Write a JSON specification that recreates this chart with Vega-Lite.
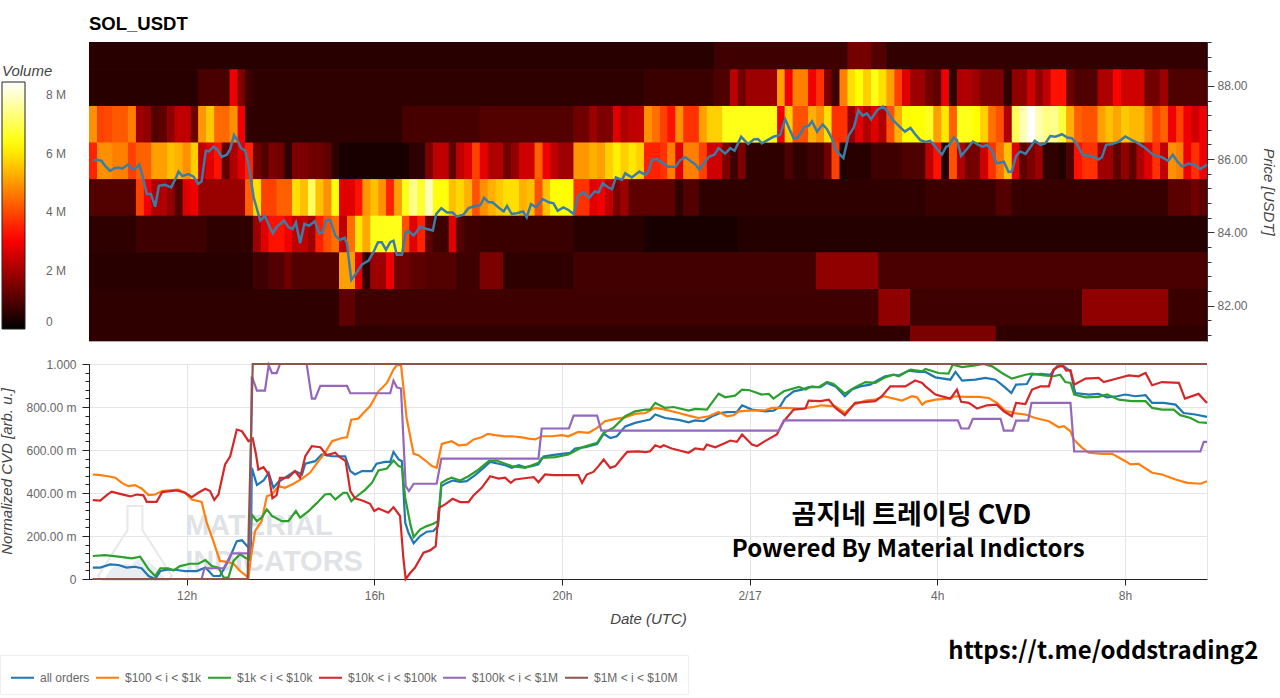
{
"$schema":"https://vega.github.io/schema/vega-lite/v6.json",
"description":"SOL_USDT order book heatmap with price, and normalized CVD by order size",
"background":"white",
"padding":{"left":-2,"top":14,"right":3,"bottom":0},
"config":{"font":"Liberation Sans"},
"spacing":15,
"datasets":{
"cells":[
{"t0":9.92,"t1":23.25,"lo":88.45,"hi":89.2,"v":0.48},{"t0":23.25,"t1":26.09,"lo":88.45,"hi":89.2,"v":0.75},{"t0":26.09,"t1":26.59,"lo":88.45,"hi":89.2,"v":1.4},{"t0":26.59,"t1":26.92,"lo":88.45,"hi":89.2,"v":1.0},{"t0":26.92,"t1":33.75,"lo":88.45,"hi":89.2,"v":0.6},
{"t0":9.92,"t1":12.25,"lo":87.45,"hi":88.45,"v":0.5},{"t0":12.25,"t1":12.92,"lo":87.45,"hi":88.45,"v":0.9},{"t0":12.92,"t1":13.09,"lo":87.45,"hi":88.45,"v":2.9},{"t0":13.09,"t1":13.25,"lo":87.45,"hi":88.45,"v":1.5},{"t0":13.25,"t1":13.42,"lo":87.45,"hi":88.45,"v":0.75},{"t0":13.42,"t1":21.75,"lo":87.45,"hi":88.45,"v":0.55},{"t0":21.75,"t1":23.25,"lo":87.45,"hi":88.45,"v":0.7},{"t0":23.25,"t1":23.59,"lo":87.45,"hi":88.45,"v":0.95},{"t0":23.59,"t1":23.75,"lo":87.45,"hi":88.45,"v":2.3},{"t0":23.75,"t1":23.92,"lo":87.45,"hi":88.45,"v":1.35},{"t0":23.92,"t1":24.59,"lo":87.45,"hi":88.45,"v":1.9},{"t0":24.59,"t1":24.75,"lo":87.45,"hi":88.45,"v":5.1},{"t0":24.75,"t1":24.92,"lo":87.45,"hi":88.45,"v":2.9},{"t0":24.92,"t1":25.25,"lo":87.45,"hi":88.45,"v":4.7},{"t0":25.25,"t1":25.42,"lo":87.45,"hi":88.45,"v":2.9},{"t0":25.42,"t1":25.59,"lo":87.45,"hi":88.45,"v":3.7},{"t0":25.59,"t1":25.75,"lo":87.45,"hi":88.45,"v":1.5},{"t0":25.75,"t1":25.92,"lo":87.45,"hi":88.45,"v":0.75},{"t0":25.92,"t1":26.09,"lo":87.45,"hi":88.45,"v":4.7},{"t0":26.09,"t1":26.25,"lo":87.45,"hi":88.45,"v":5.9},{"t0":26.25,"t1":26.42,"lo":87.45,"hi":88.45,"v":6.3},{"t0":26.42,"t1":26.59,"lo":87.45,"hi":88.45,"v":5.7},{"t0":26.59,"t1":26.75,"lo":87.45,"hi":88.45,"v":6.5},{"t0":26.75,"t1":26.92,"lo":87.45,"hi":88.45,"v":5.9},{"t0":26.92,"t1":27.09,"lo":87.45,"hi":88.45,"v":5.1},{"t0":27.09,"t1":27.25,"lo":87.45,"hi":88.45,"v":3.9},{"t0":27.25,"t1":27.42,"lo":87.45,"hi":88.45,"v":2.7},{"t0":27.42,"t1":27.75,"lo":87.45,"hi":88.45,"v":1.9},{"t0":27.75,"t1":27.92,"lo":87.45,"hi":88.45,"v":1.35},{"t0":27.92,"t1":28.09,"lo":87.45,"hi":88.45,"v":1.15},{"t0":28.09,"t1":28.25,"lo":87.45,"hi":88.45,"v":2.9},{"t0":28.25,"t1":28.42,"lo":87.45,"hi":88.45,"v":0.55},{"t0":28.42,"t1":28.75,"lo":87.45,"hi":88.45,"v":2.1},{"t0":28.75,"t1":28.92,"lo":87.45,"hi":88.45,"v":1.9},{"t0":28.92,"t1":29.42,"lo":87.45,"hi":88.45,"v":1.5},{"t0":29.42,"t1":29.59,"lo":87.45,"hi":88.45,"v":0.55},{"t0":29.59,"t1":29.92,"lo":87.45,"hi":88.45,"v":1.75},{"t0":29.92,"t1":30.09,"lo":87.45,"hi":88.45,"v":2.5},{"t0":30.09,"t1":30.25,"lo":87.45,"hi":88.45,"v":1.75},{"t0":30.25,"t1":30.42,"lo":87.45,"hi":88.45,"v":2.3},{"t0":30.42,"t1":30.75,"lo":87.45,"hi":88.45,"v":3.3},{"t0":30.75,"t1":30.92,"lo":87.45,"hi":88.45,"v":1.35},{"t0":30.92,"t1":31.42,"lo":87.45,"hi":88.45,"v":0.95},{"t0":31.42,"t1":31.75,"lo":87.45,"hi":88.45,"v":2.1},{"t0":31.75,"t1":31.92,"lo":87.45,"hi":88.45,"v":3.1},{"t0":31.92,"t1":32.42,"lo":87.45,"hi":88.45,"v":2.5},{"t0":32.42,"t1":32.75,"lo":87.45,"hi":88.45,"v":1.35},{"t0":32.75,"t1":32.92,"lo":87.45,"hi":88.45,"v":1.9},{"t0":32.92,"t1":33.75,"lo":87.45,"hi":88.45,"v":0.95},
{"t0":9.92,"t1":10.09,"lo":86.45,"hi":87.45,"v":4.9},{"t0":10.09,"t1":10.25,"lo":86.45,"hi":87.45,"v":3.9},{"t0":10.25,"t1":10.42,"lo":86.45,"hi":87.45,"v":4.0},{"t0":10.42,"t1":10.75,"lo":86.45,"hi":87.45,"v":4.2},{"t0":10.75,"t1":10.92,"lo":86.45,"hi":87.45,"v":4.7},{"t0":10.92,"t1":11.09,"lo":86.45,"hi":87.45,"v":1.9},{"t0":11.09,"t1":11.25,"lo":86.45,"hi":87.45,"v":1.75},{"t0":11.25,"t1":11.42,"lo":86.45,"hi":87.45,"v":1.0},{"t0":11.42,"t1":11.59,"lo":86.45,"hi":87.45,"v":1.15},{"t0":11.59,"t1":11.75,"lo":86.45,"hi":87.45,"v":1.75},{"t0":11.75,"t1":12.09,"lo":86.45,"hi":87.45,"v":2.3},{"t0":12.09,"t1":12.25,"lo":86.45,"hi":87.45,"v":1.3},{"t0":12.25,"t1":12.42,"lo":86.45,"hi":87.45,"v":5.0},{"t0":12.42,"t1":12.59,"lo":86.45,"hi":87.45,"v":5.6},{"t0":12.59,"t1":12.92,"lo":86.45,"hi":87.45,"v":4.4},{"t0":12.92,"t1":13.09,"lo":86.45,"hi":87.45,"v":4.9},{"t0":13.09,"t1":13.25,"lo":86.45,"hi":87.45,"v":2.9},{"t0":13.25,"t1":16.59,"lo":86.45,"hi":87.45,"v":0.55},{"t0":16.59,"t1":18.25,"lo":86.45,"hi":87.45,"v":0.85},{"t0":18.25,"t1":20.25,"lo":86.45,"hi":87.45,"v":1.0},{"t0":20.25,"t1":20.59,"lo":86.45,"hi":87.45,"v":1.35},{"t0":20.59,"t1":20.75,"lo":86.45,"hi":87.45,"v":1.9},{"t0":20.75,"t1":21.09,"lo":86.45,"hi":87.45,"v":1.5},{"t0":21.09,"t1":21.25,"lo":86.45,"hi":87.45,"v":2.7},{"t0":21.25,"t1":21.42,"lo":86.45,"hi":87.45,"v":2.1},{"t0":21.42,"t1":21.75,"lo":86.45,"hi":87.45,"v":2.3},{"t0":21.75,"t1":21.92,"lo":86.45,"hi":87.45,"v":4.9},{"t0":21.92,"t1":22.09,"lo":86.45,"hi":87.45,"v":4.5},{"t0":22.09,"t1":22.25,"lo":86.45,"hi":87.45,"v":3.9},{"t0":22.25,"t1":22.42,"lo":86.45,"hi":87.45,"v":3.3},{"t0":22.42,"t1":22.59,"lo":86.45,"hi":87.45,"v":4.9},{"t0":22.59,"t1":22.92,"lo":86.45,"hi":87.45,"v":3.7},{"t0":22.92,"t1":23.09,"lo":86.45,"hi":87.45,"v":5.1},{"t0":23.09,"t1":23.42,"lo":86.45,"hi":87.45,"v":5.7},{"t0":23.42,"t1":24.59,"lo":86.45,"hi":87.45,"v":6.5},{"t0":24.59,"t1":24.75,"lo":86.45,"hi":87.45,"v":2.9},{"t0":24.75,"t1":24.92,"lo":86.45,"hi":87.45,"v":5.7},{"t0":24.92,"t1":25.25,"lo":86.45,"hi":87.45,"v":4.1},{"t0":25.25,"t1":25.42,"lo":86.45,"hi":87.45,"v":5.3},{"t0":25.42,"t1":25.59,"lo":86.45,"hi":87.45,"v":4.9},{"t0":25.59,"t1":25.75,"lo":86.45,"hi":87.45,"v":5.9},{"t0":25.75,"t1":26.09,"lo":86.45,"hi":87.45,"v":3.7},{"t0":26.09,"t1":26.25,"lo":86.45,"hi":87.45,"v":1.75},{"t0":26.25,"t1":26.42,"lo":86.45,"hi":87.45,"v":2.7},{"t0":26.42,"t1":26.59,"lo":86.45,"hi":87.45,"v":2.1},{"t0":26.59,"t1":26.75,"lo":86.45,"hi":87.45,"v":2.7},{"t0":26.75,"t1":26.92,"lo":86.45,"hi":87.45,"v":2.1},{"t0":26.92,"t1":27.09,"lo":86.45,"hi":87.45,"v":4.1},{"t0":27.09,"t1":27.25,"lo":86.45,"hi":87.45,"v":5.3},{"t0":27.25,"t1":27.75,"lo":86.45,"hi":87.45,"v":6.3},{"t0":27.75,"t1":27.92,"lo":86.45,"hi":87.45,"v":6.6},{"t0":27.92,"t1":28.09,"lo":86.45,"hi":87.45,"v":5.1},{"t0":28.09,"t1":28.25,"lo":86.45,"hi":87.45,"v":6.0},{"t0":28.25,"t1":28.42,"lo":86.45,"hi":87.45,"v":4.3},{"t0":28.42,"t1":28.75,"lo":86.45,"hi":87.45,"v":6.5},{"t0":28.75,"t1":28.92,"lo":86.45,"hi":87.45,"v":6.3},{"t0":28.92,"t1":29.09,"lo":86.45,"hi":87.45,"v":5.7},{"t0":29.09,"t1":29.25,"lo":86.45,"hi":87.45,"v":4.5},{"t0":29.25,"t1":29.42,"lo":86.45,"hi":87.45,"v":4.1},{"t0":29.42,"t1":29.59,"lo":86.45,"hi":87.45,"v":2.1},{"t0":29.59,"t1":29.75,"lo":86.45,"hi":87.45,"v":7.0},{"t0":29.75,"t1":29.92,"lo":86.45,"hi":87.45,"v":7.8},{"t0":29.92,"t1":30.09,"lo":86.45,"hi":87.45,"v":8.45},{"t0":30.09,"t1":30.25,"lo":86.45,"hi":87.45,"v":7.8},{"t0":30.25,"t1":30.42,"lo":86.45,"hi":87.45,"v":7.4},{"t0":30.42,"t1":30.59,"lo":86.45,"hi":87.45,"v":7.5},{"t0":30.59,"t1":30.75,"lo":86.45,"hi":87.45,"v":6.8},{"t0":30.75,"t1":30.92,"lo":86.45,"hi":87.45,"v":5.3},{"t0":30.92,"t1":31.09,"lo":86.45,"hi":87.45,"v":4.3},{"t0":31.09,"t1":31.42,"lo":86.45,"hi":87.45,"v":4.1},{"t0":31.42,"t1":31.59,"lo":86.45,"hi":87.45,"v":5.1},{"t0":31.59,"t1":31.75,"lo":86.45,"hi":87.45,"v":5.5},{"t0":31.75,"t1":31.92,"lo":86.45,"hi":87.45,"v":5.15},{"t0":31.92,"t1":32.09,"lo":86.45,"hi":87.45,"v":5.6},{"t0":32.09,"t1":32.42,"lo":86.45,"hi":87.45,"v":5.4},{"t0":32.42,"t1":32.59,"lo":86.45,"hi":87.45,"v":4.7},{"t0":32.59,"t1":32.75,"lo":86.45,"hi":87.45,"v":3.9},{"t0":32.75,"t1":32.92,"lo":86.45,"hi":87.45,"v":4.3},{"t0":32.92,"t1":33.09,"lo":86.45,"hi":87.45,"v":2.9},{"t0":33.09,"t1":33.25,"lo":86.45,"hi":87.45,"v":3.9},{"t0":33.25,"t1":33.42,"lo":86.45,"hi":87.45,"v":2.9},{"t0":33.42,"t1":33.59,"lo":86.45,"hi":87.45,"v":2.5},{"t0":33.59,"t1":33.75,"lo":86.45,"hi":87.45,"v":2.9},
{"t0":9.92,"t1":10.09,"lo":85.45,"hi":86.45,"v":3.5},{"t0":10.09,"t1":10.42,"lo":85.45,"hi":86.45,"v":4.9},{"t0":10.42,"t1":10.75,"lo":85.45,"hi":86.45,"v":4.7},{"t0":10.75,"t1":10.92,"lo":85.45,"hi":86.45,"v":3.9},{"t0":10.92,"t1":11.25,"lo":85.45,"hi":86.45,"v":4.3},{"t0":11.25,"t1":11.59,"lo":85.45,"hi":86.45,"v":5.1},{"t0":11.59,"t1":11.75,"lo":85.45,"hi":86.45,"v":5.5},{"t0":11.75,"t1":11.92,"lo":85.45,"hi":86.45,"v":5.3},{"t0":11.92,"t1":12.09,"lo":85.45,"hi":86.45,"v":4.9},{"t0":12.09,"t1":12.25,"lo":85.45,"hi":86.45,"v":5.7},{"t0":12.25,"t1":12.42,"lo":85.45,"hi":86.45,"v":2.3},{"t0":12.42,"t1":12.59,"lo":85.45,"hi":86.45,"v":2.7},{"t0":12.59,"t1":12.75,"lo":85.45,"hi":86.45,"v":3.3},{"t0":12.75,"t1":12.92,"lo":85.45,"hi":86.45,"v":1.15},{"t0":12.92,"t1":13.09,"lo":85.45,"hi":86.45,"v":2.1},{"t0":13.09,"t1":13.25,"lo":85.45,"hi":86.45,"v":2.7},{"t0":13.25,"t1":13.42,"lo":85.45,"hi":86.45,"v":3.5},{"t0":13.42,"t1":13.59,"lo":85.45,"hi":86.45,"v":1.35},{"t0":13.59,"t1":13.75,"lo":85.45,"hi":86.45,"v":1.0},{"t0":13.75,"t1":13.92,"lo":85.45,"hi":86.45,"v":1.5},{"t0":13.92,"t1":14.09,"lo":85.45,"hi":86.45,"v":1.35},{"t0":14.09,"t1":14.25,"lo":85.45,"hi":86.45,"v":0.55},{"t0":14.25,"t1":14.59,"lo":85.45,"hi":86.45,"v":1.5},{"t0":14.59,"t1":14.92,"lo":85.45,"hi":86.45,"v":1.35},{"t0":14.92,"t1":15.09,"lo":85.45,"hi":86.45,"v":1.15},{"t0":15.09,"t1":15.25,"lo":85.45,"hi":86.45,"v":0.55},{"t0":15.25,"t1":16.75,"lo":85.45,"hi":86.45,"v":0.3},{"t0":16.75,"t1":17.09,"lo":85.45,"hi":86.45,"v":0.55},{"t0":17.09,"t1":17.25,"lo":85.45,"hi":86.45,"v":1.5},{"t0":17.25,"t1":17.59,"lo":85.45,"hi":86.45,"v":2.3},{"t0":17.59,"t1":17.75,"lo":85.45,"hi":86.45,"v":1.15},{"t0":17.75,"t1":17.92,"lo":85.45,"hi":86.45,"v":2.3},{"t0":17.92,"t1":18.09,"lo":85.45,"hi":86.45,"v":2.7},{"t0":18.09,"t1":18.25,"lo":85.45,"hi":86.45,"v":3.9},{"t0":18.25,"t1":18.42,"lo":85.45,"hi":86.45,"v":2.8},{"t0":18.42,"t1":18.75,"lo":85.45,"hi":86.45,"v":2.1},{"t0":18.75,"t1":18.92,"lo":85.45,"hi":86.45,"v":1.35},{"t0":18.92,"t1":19.09,"lo":85.45,"hi":86.45,"v":1.75},{"t0":19.09,"t1":19.42,"lo":85.45,"hi":86.45,"v":2.5},{"t0":19.42,"t1":19.59,"lo":85.45,"hi":86.45,"v":4.3},{"t0":19.59,"t1":19.75,"lo":85.45,"hi":86.45,"v":2.9},{"t0":19.75,"t1":19.92,"lo":85.45,"hi":86.45,"v":2.3},{"t0":19.92,"t1":20.25,"lo":85.45,"hi":86.45,"v":1.9},{"t0":20.25,"t1":20.59,"lo":85.45,"hi":86.45,"v":5.0},{"t0":20.59,"t1":20.75,"lo":85.45,"hi":86.45,"v":5.3},{"t0":20.75,"t1":20.92,"lo":85.45,"hi":86.45,"v":5.1},{"t0":20.92,"t1":21.09,"lo":85.45,"hi":86.45,"v":5.7},{"t0":21.09,"t1":21.25,"lo":85.45,"hi":86.45,"v":6.1},{"t0":21.25,"t1":21.42,"lo":85.45,"hi":86.45,"v":5.7},{"t0":21.42,"t1":21.59,"lo":85.45,"hi":86.45,"v":6.0},{"t0":21.59,"t1":21.75,"lo":85.45,"hi":86.45,"v":5.7},{"t0":21.75,"t1":22.09,"lo":85.45,"hi":86.45,"v":3.5},{"t0":22.09,"t1":22.25,"lo":85.45,"hi":86.45,"v":3.7},{"t0":22.25,"t1":22.42,"lo":85.45,"hi":86.45,"v":4.7},{"t0":22.42,"t1":22.59,"lo":85.45,"hi":86.45,"v":2.7},{"t0":22.59,"t1":22.92,"lo":85.45,"hi":86.45,"v":4.7},{"t0":22.92,"t1":23.09,"lo":85.45,"hi":86.45,"v":3.9},{"t0":23.09,"t1":23.42,"lo":85.45,"hi":86.45,"v":2.5},{"t0":23.42,"t1":23.59,"lo":85.45,"hi":86.45,"v":1.5},{"t0":23.59,"t1":23.75,"lo":85.45,"hi":86.45,"v":0.75},{"t0":23.75,"t1":23.92,"lo":85.45,"hi":86.45,"v":1.5},{"t0":23.92,"t1":24.75,"lo":85.45,"hi":86.45,"v":0.55},{"t0":24.75,"t1":24.92,"lo":85.45,"hi":86.45,"v":0.95},{"t0":24.92,"t1":25.25,"lo":85.45,"hi":86.45,"v":0.55},{"t0":25.25,"t1":25.59,"lo":85.45,"hi":86.45,"v":0.75},{"t0":25.59,"t1":25.75,"lo":85.45,"hi":86.45,"v":1.35},{"t0":25.75,"t1":25.92,"lo":85.45,"hi":86.45,"v":3.9},{"t0":25.92,"t1":26.09,"lo":85.45,"hi":86.45,"v":0.4},{"t0":26.09,"t1":26.59,"lo":85.45,"hi":86.45,"v":0.5},{"t0":26.59,"t1":27.25,"lo":85.45,"hi":86.45,"v":0.75},{"t0":27.25,"t1":27.75,"lo":85.45,"hi":86.45,"v":0.95},{"t0":27.75,"t1":27.92,"lo":85.45,"hi":86.45,"v":2.3},{"t0":27.92,"t1":28.09,"lo":85.45,"hi":86.45,"v":3.3},{"t0":28.09,"t1":28.25,"lo":85.45,"hi":86.45,"v":0.4},{"t0":28.25,"t1":28.42,"lo":85.45,"hi":86.45,"v":4.1},{"t0":28.42,"t1":28.59,"lo":85.45,"hi":86.45,"v":2.1},{"t0":28.59,"t1":28.92,"lo":85.45,"hi":86.45,"v":1.4},{"t0":28.92,"t1":29.09,"lo":85.45,"hi":86.45,"v":2.5},{"t0":29.09,"t1":29.25,"lo":85.45,"hi":86.45,"v":3.7},{"t0":29.25,"t1":29.42,"lo":85.45,"hi":86.45,"v":4.5},{"t0":29.42,"t1":29.59,"lo":85.45,"hi":86.45,"v":5.5},{"t0":29.59,"t1":29.75,"lo":85.45,"hi":86.45,"v":2.7},{"t0":29.75,"t1":29.92,"lo":85.45,"hi":86.45,"v":1.15},{"t0":29.92,"t1":30.09,"lo":85.45,"hi":86.45,"v":1.5},{"t0":30.09,"t1":30.25,"lo":85.45,"hi":86.45,"v":1.9},{"t0":30.25,"t1":30.59,"lo":85.45,"hi":86.45,"v":0.55},{"t0":30.59,"t1":30.75,"lo":85.45,"hi":86.45,"v":0.4},{"t0":30.75,"t1":30.92,"lo":85.45,"hi":86.45,"v":0.95},{"t0":30.92,"t1":31.09,"lo":85.45,"hi":86.45,"v":3.3},{"t0":31.09,"t1":31.42,"lo":85.45,"hi":86.45,"v":3.7},{"t0":31.42,"t1":31.75,"lo":85.45,"hi":86.45,"v":1.9},{"t0":31.75,"t1":31.92,"lo":85.45,"hi":86.45,"v":1.15},{"t0":31.92,"t1":32.09,"lo":85.45,"hi":86.45,"v":1.75},{"t0":32.09,"t1":32.25,"lo":85.45,"hi":86.45,"v":1.15},{"t0":32.25,"t1":32.42,"lo":85.45,"hi":86.45,"v":2.1},{"t0":32.42,"t1":32.59,"lo":85.45,"hi":86.45,"v":2.7},{"t0":32.59,"t1":32.75,"lo":85.45,"hi":86.45,"v":3.7},{"t0":32.75,"t1":32.92,"lo":85.45,"hi":86.45,"v":2.3},{"t0":32.92,"t1":33.09,"lo":85.45,"hi":86.45,"v":4.9},{"t0":33.09,"t1":33.25,"lo":85.45,"hi":86.45,"v":4.7},{"t0":33.25,"t1":33.42,"lo":85.45,"hi":86.45,"v":2.9},{"t0":33.42,"t1":33.59,"lo":85.45,"hi":86.45,"v":3.7},{"t0":33.59,"t1":33.75,"lo":85.45,"hi":86.45,"v":2.9},
{"t0":9.92,"t1":10.92,"lo":84.45,"hi":85.45,"v":1.0},{"t0":10.92,"t1":11.09,"lo":84.45,"hi":85.45,"v":3.9},{"t0":11.09,"t1":11.25,"lo":84.45,"hi":85.45,"v":2.9},{"t0":11.25,"t1":11.59,"lo":84.45,"hi":85.45,"v":2.1},{"t0":11.59,"t1":11.75,"lo":84.45,"hi":85.45,"v":1.75},{"t0":11.75,"t1":11.92,"lo":84.45,"hi":85.45,"v":1.0},{"t0":11.92,"t1":12.09,"lo":84.45,"hi":85.45,"v":2.7},{"t0":12.09,"t1":12.25,"lo":84.45,"hi":85.45,"v":2.9},{"t0":12.25,"t1":13.25,"lo":84.45,"hi":85.45,"v":1.85},{"t0":13.25,"t1":13.42,"lo":84.45,"hi":85.45,"v":4.3},{"t0":13.42,"t1":13.59,"lo":84.45,"hi":85.45,"v":5.9},{"t0":13.59,"t1":13.92,"lo":84.45,"hi":85.45,"v":3.9},{"t0":13.92,"t1":14.25,"lo":84.45,"hi":85.45,"v":4.3},{"t0":14.25,"t1":14.42,"lo":84.45,"hi":85.45,"v":5.9},{"t0":14.42,"t1":14.59,"lo":84.45,"hi":85.45,"v":5.5},{"t0":14.59,"t1":14.75,"lo":84.45,"hi":85.45,"v":7.1},{"t0":14.75,"t1":14.92,"lo":84.45,"hi":85.45,"v":5.5},{"t0":14.92,"t1":15.09,"lo":84.45,"hi":85.45,"v":4.9},{"t0":15.09,"t1":15.25,"lo":84.45,"hi":85.45,"v":6.4},{"t0":15.25,"t1":15.59,"lo":84.45,"hi":85.45,"v":2.7},{"t0":15.59,"t1":15.75,"lo":84.45,"hi":85.45,"v":3.3},{"t0":15.75,"t1":15.92,"lo":84.45,"hi":85.45,"v":5.0},{"t0":15.92,"t1":16.09,"lo":84.45,"hi":85.45,"v":5.5},{"t0":16.09,"t1":16.25,"lo":84.45,"hi":85.45,"v":4.9},{"t0":16.25,"t1":16.42,"lo":84.45,"hi":85.45,"v":3.5},{"t0":16.42,"t1":16.59,"lo":84.45,"hi":85.45,"v":5.1},{"t0":16.59,"t1":16.75,"lo":84.45,"hi":85.45,"v":6.5},{"t0":16.75,"t1":16.92,"lo":84.45,"hi":85.45,"v":7.5},{"t0":16.92,"t1":17.09,"lo":84.45,"hi":85.45,"v":6.7},{"t0":17.09,"t1":17.25,"lo":84.45,"hi":85.45,"v":7.9},{"t0":17.25,"t1":17.59,"lo":84.45,"hi":85.45,"v":6.4},{"t0":17.59,"t1":17.75,"lo":84.45,"hi":85.45,"v":5.5},{"t0":17.75,"t1":17.92,"lo":84.45,"hi":85.45,"v":5.8},{"t0":17.92,"t1":18.09,"lo":84.45,"hi":85.45,"v":5.3},{"t0":18.09,"t1":18.25,"lo":84.45,"hi":85.45,"v":4.1},{"t0":18.25,"t1":18.42,"lo":84.45,"hi":85.45,"v":4.9},{"t0":18.42,"t1":18.59,"lo":84.45,"hi":85.45,"v":5.3},{"t0":18.59,"t1":18.75,"lo":84.45,"hi":85.45,"v":5.6},{"t0":18.75,"t1":19.09,"lo":84.45,"hi":85.45,"v":5.9},{"t0":19.09,"t1":19.25,"lo":84.45,"hi":85.45,"v":5.3},{"t0":19.25,"t1":19.42,"lo":84.45,"hi":85.45,"v":5.5},{"t0":19.42,"t1":19.59,"lo":84.45,"hi":85.45,"v":4.1},{"t0":19.59,"t1":19.75,"lo":84.45,"hi":85.45,"v":5.5},{"t0":19.75,"t1":20.25,"lo":84.45,"hi":85.45,"v":6.3},{"t0":20.25,"t1":20.59,"lo":84.45,"hi":85.45,"v":3.7},{"t0":20.59,"t1":20.75,"lo":84.45,"hi":85.45,"v":2.7},{"t0":20.75,"t1":20.92,"lo":84.45,"hi":85.45,"v":2.9},{"t0":20.92,"t1":21.09,"lo":84.45,"hi":85.45,"v":2.3},{"t0":21.09,"t1":21.25,"lo":84.45,"hi":85.45,"v":1.5},{"t0":21.25,"t1":21.42,"lo":84.45,"hi":85.45,"v":1.9},{"t0":21.42,"t1":22.42,"lo":84.45,"hi":85.45,"v":1.15},{"t0":22.42,"t1":22.59,"lo":84.45,"hi":85.45,"v":0.55},{"t0":22.59,"t1":22.92,"lo":84.45,"hi":85.45,"v":1.0},{"t0":22.92,"t1":27.75,"lo":84.45,"hi":85.45,"v":0.55},{"t0":27.75,"t1":29.25,"lo":84.45,"hi":85.45,"v":0.7},{"t0":29.25,"t1":29.59,"lo":84.45,"hi":85.45,"v":1.0},{"t0":29.59,"t1":32.92,"lo":84.45,"hi":85.45,"v":0.65},{"t0":32.92,"t1":33.42,"lo":84.45,"hi":85.45,"v":1.1},{"t0":33.42,"t1":33.59,"lo":84.45,"hi":85.45,"v":1.35},{"t0":33.59,"t1":33.75,"lo":84.45,"hi":85.45,"v":1.1},
{"t0":9.92,"t1":10.92,"lo":83.45,"hi":84.45,"v":0.55},{"t0":10.92,"t1":12.42,"lo":83.45,"hi":84.45,"v":0.75},{"t0":12.42,"t1":13.42,"lo":83.45,"hi":84.45,"v":0.55},{"t0":13.42,"t1":13.59,"lo":83.45,"hi":84.45,"v":1.9},{"t0":13.59,"t1":13.75,"lo":83.45,"hi":84.45,"v":2.7},{"t0":13.75,"t1":14.09,"lo":83.45,"hi":84.45,"v":3.3},{"t0":14.09,"t1":14.25,"lo":83.45,"hi":84.45,"v":2.9},{"t0":14.25,"t1":14.59,"lo":83.45,"hi":84.45,"v":2.3},{"t0":14.59,"t1":14.75,"lo":83.45,"hi":84.45,"v":1.9},{"t0":14.75,"t1":14.92,"lo":83.45,"hi":84.45,"v":3.5},{"t0":14.92,"t1":15.09,"lo":83.45,"hi":84.45,"v":4.1},{"t0":15.09,"t1":15.25,"lo":83.45,"hi":84.45,"v":4.5},{"t0":15.25,"t1":15.42,"lo":83.45,"hi":84.45,"v":2.3},{"t0":15.42,"t1":15.59,"lo":83.45,"hi":84.45,"v":4.5},{"t0":15.59,"t1":15.75,"lo":83.45,"hi":84.45,"v":6.0},{"t0":15.75,"t1":15.92,"lo":83.45,"hi":84.45,"v":5.2},{"t0":15.92,"t1":16.59,"lo":83.45,"hi":84.45,"v":6.5},{"t0":16.59,"t1":16.75,"lo":83.45,"hi":84.45,"v":4.1},{"t0":16.75,"t1":16.92,"lo":83.45,"hi":84.45,"v":2.7},{"t0":16.92,"t1":17.09,"lo":83.45,"hi":84.45,"v":3.5},{"t0":17.09,"t1":17.25,"lo":83.45,"hi":84.45,"v":1.15},{"t0":17.25,"t1":17.59,"lo":83.45,"hi":84.45,"v":0.75},{"t0":17.59,"t1":17.75,"lo":83.45,"hi":84.45,"v":2.7},{"t0":17.75,"t1":17.92,"lo":83.45,"hi":84.45,"v":1.0},{"t0":17.92,"t1":18.25,"lo":83.45,"hi":84.45,"v":0.75},{"t0":18.25,"t1":20.25,"lo":83.45,"hi":84.45,"v":0.7},{"t0":20.25,"t1":21.75,"lo":83.45,"hi":84.45,"v":0.5},{"t0":21.75,"t1":23.75,"lo":83.45,"hi":84.45,"v":0.3},{"t0":23.75,"t1":33.75,"lo":83.45,"hi":84.45,"v":0.45},
{"t0":9.92,"t1":13.42,"lo":82.45,"hi":83.45,"v":0.5},{"t0":13.42,"t1":13.75,"lo":82.45,"hi":83.45,"v":0.75},{"t0":13.75,"t1":14.09,"lo":82.45,"hi":83.45,"v":1.0},{"t0":14.09,"t1":14.25,"lo":82.45,"hi":83.45,"v":1.35},{"t0":14.25,"t1":15.25,"lo":82.45,"hi":83.45,"v":1.0},{"t0":15.25,"t1":15.59,"lo":82.45,"hi":83.45,"v":5.1},{"t0":15.59,"t1":15.75,"lo":82.45,"hi":83.45,"v":2.8},{"t0":15.75,"t1":15.92,"lo":82.45,"hi":83.45,"v":0.55},{"t0":15.92,"t1":16.25,"lo":82.45,"hi":83.45,"v":1.9},{"t0":16.25,"t1":16.42,"lo":82.45,"hi":83.45,"v":2.9},{"t0":16.42,"t1":16.75,"lo":82.45,"hi":83.45,"v":1.35},{"t0":16.75,"t1":17.09,"lo":82.45,"hi":83.45,"v":1.15},{"t0":17.09,"t1":17.75,"lo":82.45,"hi":83.45,"v":1.0},{"t0":17.75,"t1":18.25,"lo":82.45,"hi":83.45,"v":0.75},{"t0":18.25,"t1":18.75,"lo":82.45,"hi":83.45,"v":1.5},{"t0":18.75,"t1":20.25,"lo":82.45,"hi":83.45,"v":0.55},{"t0":20.25,"t1":25.42,"lo":82.45,"hi":83.45,"v":0.8},{"t0":25.42,"t1":26.75,"lo":82.45,"hi":83.45,"v":1.75},{"t0":26.75,"t1":33.75,"lo":82.45,"hi":83.45,"v":0.9},
{"t0":9.92,"t1":15.25,"lo":81.45,"hi":82.45,"v":0.55},{"t0":15.25,"t1":15.59,"lo":81.45,"hi":82.45,"v":1.15},{"t0":15.59,"t1":26.75,"lo":81.45,"hi":82.45,"v":0.75},{"t0":26.75,"t1":27.42,"lo":81.45,"hi":82.45,"v":1.75},{"t0":27.42,"t1":31.09,"lo":81.45,"hi":82.45,"v":0.75},{"t0":31.09,"t1":32.92,"lo":81.45,"hi":82.45,"v":1.75},{"t0":32.92,"t1":33.75,"lo":81.45,"hi":82.45,"v":0.7},
{"t0":9.92,"t1":27.42,"lo":81.03,"hi":81.45,"v":0.55},{"t0":27.42,"t1":29.25,"lo":81.03,"hi":81.45,"v":1.5},{"t0":29.25,"t1":33.75,"lo":81.03,"hi":81.45,"v":0.55}
],
"price":[
{"h":10.01,"p":85.95},{"h":10.08,"p":85.99},{"h":10.19,"p":85.95},{"h":10.26,"p":85.82},{"h":10.37,"p":85.68},{"h":10.46,"p":85.75},{"h":10.55,"p":85.77},{"h":10.63,"p":85.74},{"h":10.75,"p":85.85},{"h":10.85,"p":85.72},{"h":10.92,"p":85.75},{"h":10.99,"p":85.85},{"h":11.06,"p":85.55},{"h":11.15,"p":85.05},{"h":11.24,"p":85.05},{"h":11.33,"p":84.7},{"h":11.41,"p":85.27},{"h":11.54,"p":85.3},{"h":11.67,"p":85.23},{"h":11.76,"p":85.45},{"h":11.83,"p":85.66},{"h":11.91,"p":85.54},{"h":12.04,"p":85.59},{"h":12.15,"p":85.52},{"h":12.25,"p":85.32},{"h":12.32,"p":85.39},{"h":12.41,"p":86.23},{"h":12.48,"p":86.21},{"h":12.57,"p":86.34},{"h":12.66,"p":86.25},{"h":12.75,"p":86.06},{"h":12.86,"p":86.12},{"h":12.93,"p":86.27},{"h":13.01,"p":86.66},{"h":13.09,"p":86.5},{"h":13.16,"p":86.3},{"h":13.25,"p":86.23},{"h":13.32,"p":85.86},{"h":13.43,"p":84.95},{"h":13.57,"p":84.32},{"h":13.67,"p":84.45},{"h":13.76,"p":84.18},{"h":13.84,"p":83.97},{"h":13.92,"p":84.15},{"h":14.08,"p":84.32},{"h":14.17,"p":84.14},{"h":14.26,"p":84.09},{"h":14.33,"p":84.27},{"h":14.42,"p":83.7},{"h":14.51,"p":84.23},{"h":14.61,"p":84.18},{"h":14.73,"p":84.3},{"h":14.83,"p":83.97},{"h":14.9,"p":84.0},{"h":14.97,"p":84.32},{"h":15.06,"p":84.34},{"h":15.17,"p":83.91},{"h":15.27,"p":83.79},{"h":15.37,"p":83.85},{"h":15.42,"p":83.68},{"h":15.51,"p":82.7},{"h":15.63,"p":82.91},{"h":15.74,"p":83.12},{"h":15.88,"p":83.23},{"h":15.98,"p":83.45},{"h":16.08,"p":83.73},{"h":16.16,"p":83.73},{"h":16.25,"p":83.52},{"h":16.34,"p":83.73},{"h":16.41,"p":83.77},{"h":16.48,"p":83.39},{"h":16.59,"p":83.39},{"h":16.67,"p":84.0},{"h":16.74,"p":84.03},{"h":16.84,"p":83.91},{"h":16.98,"p":84.15},{"h":17.12,"p":84.09},{"h":17.25,"p":84.05},{"h":17.32,"p":84.5},{"h":17.43,"p":84.66},{"h":17.55,"p":84.54},{"h":17.67,"p":84.54},{"h":17.76,"p":84.43},{"h":17.9,"p":84.48},{"h":18.01,"p":84.66},{"h":18.15,"p":84.72},{"h":18.26,"p":84.74},{"h":18.34,"p":84.94},{"h":18.44,"p":84.82},{"h":18.52,"p":84.82},{"h":18.65,"p":84.68},{"h":18.76,"p":84.57},{"h":18.83,"p":84.72},{"h":18.93,"p":84.5},{"h":19.04,"p":84.52},{"h":19.17,"p":84.57},{"h":19.25,"p":84.41},{"h":19.34,"p":84.77},{"h":19.45,"p":84.68},{"h":19.59,"p":84.91},{"h":19.72,"p":84.82},{"h":19.82,"p":84.79},{"h":19.91,"p":84.59},{"h":20.03,"p":84.68},{"h":20.14,"p":84.61},{"h":20.25,"p":84.5},{"h":20.35,"p":85.0},{"h":20.46,"p":85.09},{"h":20.58,"p":84.94},{"h":20.7,"p":85.12},{"h":20.78,"p":85.09},{"h":20.87,"p":85.34},{"h":20.98,"p":85.23},{"h":21.07,"p":85.18},{"h":21.15,"p":85.5},{"h":21.28,"p":85.43},{"h":21.35,"p":85.61},{"h":21.49,"p":85.5},{"h":21.65,"p":85.66},{"h":21.78,"p":85.57},{"h":21.85,"p":85.68},{"h":21.92,"p":85.98},{"h":22.02,"p":86.0},{"h":22.13,"p":85.91},{"h":22.27,"p":85.79},{"h":22.42,"p":85.79},{"h":22.52,"p":85.97},{"h":22.63,"p":86.05},{"h":22.74,"p":85.95},{"h":22.84,"p":85.86},{"h":22.93,"p":85.72},{"h":23.04,"p":85.91},{"h":23.14,"p":86.07},{"h":23.25,"p":86.12},{"h":23.34,"p":86.3},{"h":23.48,"p":86.15},{"h":23.59,"p":86.3},{"h":23.68,"p":86.23},{"h":23.82,"p":86.61},{"h":23.97,"p":86.41},{"h":24.09,"p":86.54},{"h":24.18,"p":86.55},{"h":24.26,"p":86.43},{"h":24.41,"p":86.54},{"h":24.51,"p":86.61},{"h":24.65,"p":86.66},{"h":24.76,"p":87.09},{"h":24.85,"p":86.82},{"h":24.94,"p":86.57},{"h":25.03,"p":86.59},{"h":25.17,"p":86.88},{"h":25.26,"p":86.91},{"h":25.33,"p":87.03},{"h":25.44,"p":86.75},{"h":25.56,"p":86.95},{"h":25.65,"p":86.82},{"h":25.76,"p":86.55},{"h":25.84,"p":86.23},{"h":26.0,"p":86.03},{"h":26.11,"p":86.64},{"h":26.22,"p":86.86},{"h":26.32,"p":87.34},{"h":26.41,"p":87.18},{"h":26.5,"p":87.25},{"h":26.59,"p":87.09},{"h":26.72,"p":87.34},{"h":26.84,"p":87.44},{"h":26.93,"p":87.32},{"h":27.04,"p":87.09},{"h":27.18,"p":86.91},{"h":27.31,"p":86.75},{"h":27.43,"p":86.85},{"h":27.53,"p":86.68},{"h":27.64,"p":86.52},{"h":27.75,"p":86.47},{"h":27.85,"p":86.5},{"h":27.96,"p":86.34},{"h":28.1,"p":86.12},{"h":28.19,"p":86.34},{"h":28.24,"p":86.36},{"h":28.35,"p":86.59},{"h":28.42,"p":86.52},{"h":28.51,"p":86.09},{"h":28.63,"p":86.27},{"h":28.76,"p":86.48},{"h":28.88,"p":86.39},{"h":28.97,"p":86.34},{"h":29.06,"p":86.39},{"h":29.17,"p":86.23},{"h":29.26,"p":85.88},{"h":29.42,"p":85.93},{"h":29.52,"p":85.65},{"h":29.59,"p":85.66},{"h":29.68,"p":86.09},{"h":29.77,"p":86.21},{"h":29.88,"p":86.14},{"h":29.98,"p":86.32},{"h":30.08,"p":86.5},{"h":30.2,"p":86.39},{"h":30.3,"p":86.43},{"h":30.41,"p":86.63},{"h":30.52,"p":86.61},{"h":30.66,"p":86.68},{"h":30.77,"p":86.59},{"h":30.87,"p":86.57},{"h":30.98,"p":86.41},{"h":31.1,"p":86.11},{"h":31.23,"p":86.09},{"h":31.34,"p":86.06},{"h":31.44,"p":85.99},{"h":31.51,"p":86.05},{"h":31.6,"p":86.39},{"h":31.73,"p":86.41},{"h":31.87,"p":86.48},{"h":32.01,"p":86.62},{"h":32.15,"p":86.52},{"h":32.29,"p":86.43},{"h":32.44,"p":86.3},{"h":32.61,"p":86.11},{"h":32.79,"p":86.05},{"h":32.92,"p":85.95},{"h":33.02,"p":86.12},{"h":33.11,"p":85.95},{"h":33.22,"p":85.79},{"h":33.36,"p":85.88},{"h":33.49,"p":85.84},{"h":33.61,"p":85.73},{"h":33.75,"p":85.85}
],
"all_orders":[
{"h":10.0,"v":0.053},{"h":10.16,"v":0.053},{"h":10.37,"v":0.068},{"h":10.55,"v":0.065},{"h":10.72,"v":0.053},{"h":10.9,"v":0.057},{"h":11.04,"v":0.05},{"h":11.19,"v":0.014},{"h":11.33,"v":0},{"h":11.44,"v":0.037},{"h":11.61,"v":0.045},{"h":11.79,"v":0.042},{"h":11.97,"v":0.037},{"h":12.22,"v":0.037},{"h":12.4,"v":0.053},{"h":12.57,"v":0.014},{"h":12.71,"v":0.014},{"h":12.89,"v":0.084},{"h":13.07,"v":0.176},{"h":13.18,"v":0.18},{"h":13.32,"v":0.146},{"h":13.37,"v":0.146},{"h":13.39,"v":0.517},{"h":13.5,"v":0.437},{"h":13.64,"v":0.458},{"h":13.75,"v":0.494},{"h":13.85,"v":0.424},{"h":13.96,"v":0.452},{"h":14.1,"v":0.471},{"h":14.31,"v":0.502},{"h":14.46,"v":0.486},{"h":14.53,"v":0.536},{"h":14.74,"v":0.548},{"h":14.88,"v":0.579},{"h":15.1,"v":0.571},{"h":15.38,"v":0.57},{"h":15.49,"v":0.502},{"h":15.59,"v":0.486},{"h":15.74,"v":0.502},{"h":15.95,"v":0.502},{"h":16.05,"v":0.536},{"h":16.23,"v":0.545},{"h":16.34,"v":0.545},{"h":16.41,"v":0.591},{"h":16.52,"v":0.556},{"h":16.59,"v":0.548},{"h":16.66,"v":0.262},{"h":16.73,"v":0.215},{"h":16.84,"v":0.166},{"h":16.98,"v":0.2},{"h":17.12,"v":0.22},{"h":17.26,"v":0.223},{"h":17.36,"v":0.246},{"h":17.43,"v":0.432},{"h":17.55,"v":0.447},{"h":17.67,"v":0.458},{"h":17.83,"v":0.452},{"h":17.97,"v":0.455},{"h":18.15,"v":0.483},{"h":18.33,"v":0.517},{"h":18.47,"v":0.545},{"h":18.65,"v":0.536},{"h":18.79,"v":0.529},{"h":18.93,"v":0.517},{"h":19.08,"v":0.529},{"h":19.22,"v":0.52},{"h":19.36,"v":0.525},{"h":19.5,"v":0.533},{"h":19.61,"v":0.57},{"h":19.79,"v":0.576},{"h":20.0,"v":0.582},{"h":20.18,"v":0.587},{"h":20.28,"v":0.607},{"h":20.5,"v":0.613},{"h":20.75,"v":0.628},{"h":20.89,"v":0.675},{"h":21.03,"v":0.656},{"h":21.17,"v":0.664},{"h":21.35,"v":0.71},{"h":21.56,"v":0.726},{"h":21.78,"v":0.737},{"h":21.88,"v":0.742},{"h":21.99,"v":0.765},{"h":22.2,"v":0.749},{"h":22.49,"v":0.74},{"h":22.7,"v":0.729},{"h":22.84,"v":0.738},{"h":23.02,"v":0.734},{"h":23.2,"v":0.757},{"h":23.38,"v":0.772},{"h":23.52,"v":0.776},{"h":23.73,"v":0.777},{"h":23.84,"v":0.808},{"h":24.05,"v":0.788},{"h":24.33,"v":0.78},{"h":24.51,"v":0.783},{"h":24.65,"v":0.803},{"h":24.76,"v":0.842},{"h":24.94,"v":0.873},{"h":25.12,"v":0.881},{"h":25.26,"v":0.892},{"h":25.51,"v":0.892},{"h":25.65,"v":0.912},{"h":25.83,"v":0.896},{"h":26.03,"v":0.85},{"h":26.18,"v":0.881},{"h":26.36,"v":0.896},{"h":26.57,"v":0.904},{"h":26.75,"v":0.927},{"h":26.89,"v":0.943},{"h":27.07,"v":0.95},{"h":27.18,"v":0.947},{"h":27.39,"v":0.969},{"h":27.6,"v":0.963},{"h":27.75,"v":0.963},{"h":27.96,"v":0.938},{"h":28.28,"v":0.927},{"h":28.39,"v":0.963},{"h":28.53,"v":0.923},{"h":28.81,"v":0.927},{"h":29.03,"v":0.935},{"h":29.24,"v":0.927},{"h":29.42,"v":0.896},{"h":29.58,"v":0.865},{"h":29.68,"v":0.904},{"h":29.91,"v":0.907},{"h":30.02,"v":0.95},{"h":30.2,"v":0.954},{"h":30.41,"v":0.95},{"h":30.55,"v":0.989},{"h":30.7,"v":0.989},{"h":30.84,"v":0.966},{"h":30.94,"v":0.865},{"h":31.23,"v":0.858},{"h":31.44,"v":0.861},{"h":31.62,"v":0.845},{"h":31.83,"v":0.85},{"h":32.01,"v":0.858},{"h":32.22,"v":0.85},{"h":32.44,"v":0.855},{"h":32.58,"v":0.819},{"h":32.83,"v":0.819},{"h":33.08,"v":0.811},{"h":33.25,"v":0.772},{"h":33.5,"v":0.765},{"h":33.75,"v":0.754}
],
"size_100":[
{"h":10.0,"v":0.486},{"h":10.16,"v":0.483},{"h":10.33,"v":0.478},{"h":10.48,"v":0.471},{"h":10.62,"v":0.447},{"h":10.76,"v":0.432},{"h":10.9,"v":0.437},{"h":11.04,"v":0.421},{"h":11.19,"v":0.39},{"h":11.33,"v":0.393},{"h":11.48,"v":0.409},{"h":11.65,"v":0.412},{"h":11.83,"v":0.416},{"h":11.97,"v":0.401},{"h":12.11,"v":0.37},{"h":12.32,"v":0.359},{"h":12.43,"v":0.262},{"h":12.57,"v":0.176},{"h":12.71,"v":0.084},{"h":12.86,"v":0.08},{"h":13.0,"v":0.071},{"h":13.14,"v":0.037},{"h":13.32,"v":0.006},{"h":13.37,"v":0.099},{"h":13.46,"v":0.223},{"h":13.6,"v":0.269},{"h":13.71,"v":0.385},{"h":13.82,"v":0.393},{"h":13.96,"v":0.432},{"h":14.1,"v":0.424},{"h":14.28,"v":0.443},{"h":14.46,"v":0.467},{"h":14.63,"v":0.494},{"h":14.81,"v":0.548},{"h":14.95,"v":0.587},{"h":15.1,"v":0.641},{"h":15.31,"v":0.656},{"h":15.42,"v":0.659},{"h":15.51,"v":0.741},{"h":15.66,"v":0.746},{"h":15.77,"v":0.772},{"h":15.91,"v":0.803},{"h":15.95,"v":0.819},{"h":16.09,"v":0.873},{"h":16.27,"v":0.912},{"h":16.41,"v":0.974},{"h":16.48,"v":0.994},{"h":16.57,"v":0.997},{"h":16.69,"v":0.749},{"h":16.84,"v":0.582},{"h":16.94,"v":0.576},{"h":17.09,"v":0.551},{"h":17.23,"v":0.525},{"h":17.33,"v":0.517},{"h":17.44,"v":0.628},{"h":17.65,"v":0.641},{"h":17.8,"v":0.622},{"h":17.97,"v":0.625},{"h":18.12,"v":0.649},{"h":18.29,"v":0.659},{"h":18.42,"v":0.675},{"h":18.58,"v":0.669},{"h":18.79,"v":0.663},{"h":18.93,"v":0.664},{"h":19.15,"v":0.659},{"h":19.29,"v":0.653},{"h":19.43,"v":0.649},{"h":19.57,"v":0.664},{"h":19.79,"v":0.664},{"h":20.0,"v":0.669},{"h":20.14,"v":0.664},{"h":20.35,"v":0.684},{"h":20.57,"v":0.68},{"h":20.75,"v":0.703},{"h":20.92,"v":0.734},{"h":21.14,"v":0.745},{"h":21.35,"v":0.752},{"h":21.56,"v":0.768},{"h":21.78,"v":0.772},{"h":21.99,"v":0.796},{"h":22.2,"v":0.788},{"h":22.49,"v":0.772},{"h":22.7,"v":0.76},{"h":22.91,"v":0.749},{"h":23.13,"v":0.757},{"h":23.34,"v":0.777},{"h":23.52,"v":0.757},{"h":23.66,"v":0.762},{"h":23.77,"v":0.78},{"h":23.98,"v":0.783},{"h":24.33,"v":0.785},{"h":24.48,"v":0.796},{"h":24.76,"v":0.796},{"h":25.12,"v":0.793},{"h":25.33,"v":0.799},{"h":25.54,"v":0.808},{"h":25.83,"v":0.803},{"h":26.03,"v":0.772},{"h":26.22,"v":0.811},{"h":26.47,"v":0.83},{"h":26.68,"v":0.834},{"h":26.86,"v":0.85},{"h":27.25,"v":0.83},{"h":27.46,"v":0.85},{"h":27.57,"v":0.845},{"h":27.68,"v":0.811},{"h":27.75,"v":0.824},{"h":27.96,"v":0.834},{"h":28.24,"v":0.839},{"h":28.39,"v":0.85},{"h":28.6,"v":0.847},{"h":28.88,"v":0.847},{"h":29.1,"v":0.842},{"h":29.27,"v":0.819},{"h":29.45,"v":0.783},{"h":29.63,"v":0.772},{"h":29.88,"v":0.765},{"h":30.09,"v":0.749},{"h":30.38,"v":0.734},{"h":30.59,"v":0.706},{"h":30.7,"v":0.711},{"h":30.84,"v":0.687},{"h":30.91,"v":0.649},{"h":31.09,"v":0.61},{"h":31.23,"v":0.587},{"h":31.51,"v":0.582},{"h":31.73,"v":0.582},{"h":32.01,"v":0.548},{"h":32.12,"v":0.533},{"h":32.29,"v":0.536},{"h":32.58,"v":0.494},{"h":32.79,"v":0.486},{"h":33.08,"v":0.463},{"h":33.33,"v":0.447},{"h":33.61,"v":0.443},{"h":33.75,"v":0.455}
],
"size_1k":[
{"h":10.0,"v":0.107},{"h":10.26,"v":0.111},{"h":10.55,"v":0.104},{"h":10.83,"v":0.096},{"h":11.01,"v":0.104},{"h":11.19,"v":0.045},{"h":11.33,"v":0.014},{"h":11.44,"v":0.05},{"h":11.61,"v":0.05},{"h":11.72,"v":0.04},{"h":11.86,"v":0.06},{"h":12.07,"v":0.071},{"h":12.25,"v":0.071},{"h":12.4,"v":0.088},{"h":12.54,"v":0.06},{"h":12.68,"v":0.053},{"h":12.79,"v":0.006},{"h":12.89,"v":0.006},{"h":13.0,"v":0.084},{"h":13.14,"v":0.115},{"h":13.25,"v":0.099},{"h":13.33,"v":0.091},{"h":13.39,"v":0.3},{"h":13.5,"v":0.269},{"h":13.6,"v":0.285},{"h":13.71,"v":0.324},{"h":13.82,"v":0.293},{"h":14.03,"v":0.269},{"h":14.17,"v":0.269},{"h":14.33,"v":0.316},{"h":14.42,"v":0.285},{"h":14.6,"v":0.316},{"h":14.78,"v":0.354},{"h":14.95,"v":0.393},{"h":15.06,"v":0.396},{"h":15.17,"v":0.37},{"h":15.34,"v":0.401},{"h":15.42,"v":0.401},{"h":15.51,"v":0.362},{"h":15.63,"v":0.385},{"h":15.81,"v":0.416},{"h":15.95,"v":0.447},{"h":16.09,"v":0.505},{"h":16.27,"v":0.514},{"h":16.41,"v":0.551},{"h":16.52,"v":0.525},{"h":16.59,"v":0.52},{"h":16.66,"v":0.378},{"h":16.77,"v":0.254},{"h":16.84,"v":0.195},{"h":16.98,"v":0.231},{"h":17.12,"v":0.246},{"h":17.26,"v":0.257},{"h":17.36,"v":0.269},{"h":17.43,"v":0.447},{"h":17.55,"v":0.463},{"h":17.65,"v":0.471},{"h":17.83,"v":0.458},{"h":18.01,"v":0.478},{"h":18.22,"v":0.509},{"h":18.44,"v":0.548},{"h":18.61,"v":0.551},{"h":18.79,"v":0.536},{"h":18.93,"v":0.525},{"h":19.22,"v":0.517},{"h":19.5,"v":0.54},{"h":19.57,"v":0.563},{"h":19.86,"v":0.567},{"h":20.14,"v":0.579},{"h":20.43,"v":0.613},{"h":20.75,"v":0.633},{"h":20.89,"v":0.68},{"h":21.1,"v":0.703},{"h":21.35,"v":0.757},{"h":21.56,"v":0.78},{"h":21.78,"v":0.788},{"h":21.88,"v":0.788},{"h":21.99,"v":0.819},{"h":22.2,"v":0.796},{"h":22.38,"v":0.8},{"h":22.7,"v":0.783},{"h":22.84,"v":0.791},{"h":23.09,"v":0.788},{"h":23.34,"v":0.862},{"h":23.48,"v":0.845},{"h":23.69,"v":0.853},{"h":23.84,"v":0.881},{"h":24.0,"v":0.878},{"h":24.26,"v":0.858},{"h":24.41,"v":0.861},{"h":24.51,"v":0.839},{"h":24.73,"v":0.873},{"h":25.05,"v":0.893},{"h":25.19,"v":0.881},{"h":25.33,"v":0.896},{"h":25.47,"v":0.892},{"h":25.65,"v":0.916},{"h":25.79,"v":0.907},{"h":26.03,"v":0.862},{"h":26.22,"v":0.889},{"h":26.47,"v":0.916},{"h":26.68,"v":0.912},{"h":26.89,"v":0.938},{"h":27.07,"v":0.95},{"h":27.18,"v":0.943},{"h":27.43,"v":0.974},{"h":27.68,"v":0.966},{"h":27.75,"v":0.977},{"h":28.03,"v":0.958},{"h":28.24,"v":0.955},{"h":28.33,"v":0.997},{"h":28.53,"v":0.986},{"h":28.81,"v":0.994},{"h":28.99,"v":1.0},{"h":29.17,"v":0.989},{"h":29.38,"v":0.958},{"h":29.59,"v":0.932},{"h":29.88,"v":0.95},{"h":30.02,"v":0.955},{"h":30.27,"v":0.947},{"h":30.48,"v":0.943},{"h":30.62,"v":0.95},{"h":30.73,"v":0.916},{"h":30.84,"v":0.912},{"h":30.92,"v":0.858},{"h":31.16,"v":0.845},{"h":31.44,"v":0.847},{"h":31.62,"v":0.858},{"h":31.87,"v":0.834},{"h":32.15,"v":0.827},{"h":32.44,"v":0.827},{"h":32.58,"v":0.796},{"h":32.79,"v":0.788},{"h":33.04,"v":0.788},{"h":33.18,"v":0.762},{"h":33.4,"v":0.749},{"h":33.57,"v":0.729},{"h":33.75,"v":0.726}
],
"size_10k":[
{"h":10.0,"v":0.367},{"h":10.16,"v":0.365},{"h":10.3,"v":0.39},{"h":10.4,"v":0.406},{"h":10.58,"v":0.396},{"h":10.8,"v":0.384},{"h":10.94,"v":0.393},{"h":11.08,"v":0.389},{"h":11.15,"v":0.359},{"h":11.36,"v":0.359},{"h":11.48,"v":0.404},{"h":11.65,"v":0.409},{"h":11.79,"v":0.412},{"h":11.97,"v":0.401},{"h":12.11,"v":0.381},{"h":12.25,"v":0.401},{"h":12.4,"v":0.42},{"h":12.5,"v":0.409},{"h":12.59,"v":0.368},{"h":12.68,"v":0.393},{"h":12.82,"v":0.533},{"h":12.93,"v":0.571},{"h":13.07,"v":0.695},{"h":13.18,"v":0.687},{"h":13.32,"v":0.641},{"h":13.41,"v":0.653},{"h":13.48,"v":0.579},{"h":13.53,"v":0.509},{"h":13.64,"v":0.52},{"h":13.75,"v":0.486},{"h":13.83,"v":0.375},{"h":13.92,"v":0.39},{"h":13.99,"v":0.471},{"h":14.17,"v":0.471},{"h":14.31,"v":0.502},{"h":14.42,"v":0.471},{"h":14.53,"v":0.571},{"h":14.67,"v":0.618},{"h":14.85,"v":0.613},{"h":14.99,"v":0.576},{"h":15.17,"v":0.587},{"h":15.24,"v":0.571},{"h":15.39,"v":0.548},{"h":15.49,"v":0.409},{"h":15.59,"v":0.375},{"h":15.74,"v":0.365},{"h":15.81,"v":0.359},{"h":15.91,"v":0.35},{"h":16.0,"v":0.316},{"h":16.09,"v":0.328},{"h":16.3,"v":0.308},{"h":16.41,"v":0.334},{"h":16.55,"v":0.293},{"h":16.62,"v":0.099},{"h":16.67,"v":0},{"h":16.77,"v":0.029},{"h":16.87,"v":0.053},{"h":17.05,"v":0.122},{"h":17.19,"v":0.133},{"h":17.31,"v":0.153},{"h":17.38,"v":0.331},{"h":17.51,"v":0.347},{"h":17.67,"v":0.373},{"h":17.83,"v":0.358},{"h":18.01,"v":0.358},{"h":18.12,"v":0.39},{"h":18.29,"v":0.424},{"h":18.47,"v":0.478},{"h":18.65,"v":0.467},{"h":18.79,"v":0.471},{"h":18.91,"v":0.447},{"h":19.0,"v":0.463},{"h":19.29,"v":0.471},{"h":19.4,"v":0.474},{"h":19.5,"v":0.45},{"h":19.64,"v":0.486},{"h":19.82,"v":0.483},{"h":20.35,"v":0.483},{"h":20.43,"v":0.447},{"h":20.53,"v":0.486},{"h":20.67,"v":0.498},{"h":20.78,"v":0.525},{"h":20.89,"v":0.556},{"h":21.03,"v":0.517},{"h":21.14,"v":0.525},{"h":21.28,"v":0.563},{"h":21.39,"v":0.591},{"h":21.63,"v":0.594},{"h":21.78,"v":0.59},{"h":21.88,"v":0.594},{"h":21.99,"v":0.622},{"h":22.1,"v":0.613},{"h":22.17,"v":0.622},{"h":22.34,"v":0.607},{"h":22.7,"v":0.587},{"h":22.84,"v":0.607},{"h":23.02,"v":0.602},{"h":23.09,"v":0.625},{"h":23.27,"v":0.613},{"h":23.48,"v":0.633},{"h":23.59,"v":0.644},{"h":23.73,"v":0.638},{"h":23.84,"v":0.672},{"h":24.05,"v":0.625},{"h":24.16,"v":0.618},{"h":24.3,"v":0.638},{"h":24.58,"v":0.672},{"h":24.73,"v":0.734},{"h":24.94,"v":0.788},{"h":25.19,"v":0.793},{"h":25.26,"v":0.83},{"h":25.51,"v":0.827},{"h":25.69,"v":0.834},{"h":25.83,"v":0.796},{"h":26.03,"v":0.762},{"h":26.25,"v":0.819},{"h":26.68,"v":0.827},{"h":26.82,"v":0.85},{"h":27.0,"v":0.896},{"h":27.32,"v":0.896},{"h":27.53,"v":0.923},{"h":27.68,"v":0.912},{"h":27.75,"v":0.896},{"h":27.96,"v":0.858},{"h":28.28,"v":0.839},{"h":28.42,"v":0.881},{"h":28.51,"v":0.824},{"h":28.67,"v":0.819},{"h":28.85,"v":0.793},{"h":29.06,"v":0.808},{"h":29.27,"v":0.811},{"h":29.42,"v":0.78},{"h":29.59,"v":0.757},{"h":29.68,"v":0.819},{"h":29.88,"v":0.814},{"h":30.02,"v":0.881},{"h":30.2,"v":0.896},{"h":30.38,"v":0.896},{"h":30.48,"v":0.974},{"h":30.66,"v":0.997},{"h":30.75,"v":0.969},{"h":30.84,"v":0.971},{"h":30.92,"v":0.904},{"h":31.16,"v":0.932},{"h":31.44,"v":0.935},{"h":31.55,"v":0.916},{"h":31.87,"v":0.935},{"h":32.08,"v":0.947},{"h":32.29,"v":0.943},{"h":32.44,"v":0.958},{"h":32.58,"v":0.901},{"h":32.79,"v":0.916},{"h":33.15,"v":0.912},{"h":33.28,"v":0.839},{"h":33.57,"v":0.861},{"h":33.75,"v":0.819}
],
"size_100k":[
{"h":10.0,"v":0},{"h":12.32,"v":0},{"h":12.38,"v":0.05},{"h":12.79,"v":0.05},{"h":12.96,"v":0.119},{"h":13.35,"v":0.119},{"h":13.39,"v":0.943},{"h":13.5,"v":0.876},{"h":13.67,"v":0.876},{"h":13.75,"v":0.994},{"h":13.82,"v":0.958},{"h":13.92,"v":0.958},{"h":13.99,"v":1.0},{"h":14.56,"v":1.0},{"h":14.67,"v":0.839},{"h":14.74,"v":0.839},{"h":14.85,"v":0.898},{"h":15.42,"v":0.898},{"h":15.49,"v":0.864},{"h":16.34,"v":0.864},{"h":16.41,"v":0.923},{"h":16.48,"v":0.892},{"h":16.57,"v":0.886},{"h":16.67,"v":0.432},{"h":16.74,"v":0.409},{"h":16.84,"v":0.443},{"h":17.33,"v":0.443},{"h":17.43,"v":0.56},{"h":19.5,"v":0.56},{"h":19.57,"v":0.7},{"h":20.15,"v":0.7},{"h":20.25,"v":0.76},{"h":20.75,"v":0.76},{"h":20.84,"v":0.69},{"h":24.62,"v":0.69},{"h":24.73,"v":0.738},{"h":28.44,"v":0.738},{"h":28.51,"v":0.7},{"h":28.67,"v":0.7},{"h":28.76,"v":0.745},{"h":29.35,"v":0.745},{"h":29.42,"v":0.69},{"h":29.61,"v":0.69},{"h":29.68,"v":0.737},{"h":29.94,"v":0.737},{"h":30.01,"v":0.819},{"h":30.84,"v":0.819},{"h":30.92,"v":0.593},{"h":33.61,"v":0.593},{"h":33.68,"v":0.638},{"h":33.75,"v":0.638}
],
"size_1m":[
{"h":10.0,"v":0},{"h":13.3,"v":0},{"h":13.41,"v":1},{"h":33.75,"v":1}
]
},
"vconcat":[
{
"title":{"text":"SOL_USDT","anchor":"start","frame":"group","fontSize":18.5,"fontWeight":"bold","color":"#000000","offset":8},
"width":1118,"height":299,
"view":{"stroke":"#b8acac"},
"resolve":{"axis":{"y":"independent"}},
"layer":[
{"data":{"name":"cells"},
"mark":{"type":"rect","strokeWidth":0.6,"clip":true},
"encoding":{
"x":{"field":"t0","type":"quantitative","scale":{"domain":[9.92,33.75],"nice":false,"zero":false},"axis":null},
"x2":{"field":"t1"},
"y":{"field":"lo","type":"quantitative","scale":{"domain":[81.03,89.2],"nice":false,"zero":false},"axis":null},
"y2":{"field":"hi"},
"fill":{"field":"v","type":"quantitative","scale":{"domain":[0,3.08,6.3,8.45],"range":["#000000","#ff0000","#ffff00","#ffffff"],"interpolate":"rgb"},"legend":null},
"stroke":{"field":"v","type":"quantitative","scale":{"domain":[0,3.08,6.3,8.45],"range":["#000000","#ff0000","#ffff00","#ffffff"],"interpolate":"rgb"},"legend":null}
}},
{"data":{"name":"cells"},
"mark":{"type":"rect","clip":true},
"encoding":{
"x":{"field":"t0","type":"quantitative","scale":{"domain":[9.92,33.75],"nice":false,"zero":false},"axis":null},
"x2":{"field":"t1"},
"y":{"field":"lo","type":"quantitative","scale":{"domain":[81.03,89.2],"nice":false,"zero":false},
"axis":{"orient":"right","values":[81.2,81.6,82,82.4,82.8,83.2,83.6,84,84.4,84.8,85.2,85.6,86,86.4,86.8,87.2,87.6,88,88.4,88.8,89.2],"labels":false,"grid":false,"title":null,"domain":false,"tickSize":4,"tickColor":"#333333"}},
"y2":{"field":"hi"},
"color":{"field":"v","type":"quantitative","scale":{"domain":[0,3.08,6.3,8.45],"range":["#000000","#ff0000","#ffff00","#ffffff"],"interpolate":"rgb"},
"legend":{"title":"Volume","orient":"none","legendX":-87,"legendY":22,"gradientLength":247,"gradientThickness":23,"gradientStrokeColor":"#222222","gradientStrokeWidth":1,"values":[0,2,4,6,8],"labelExpr":"datum.value == 0 ? '0' : datum.value + ' M'","labelFontSize":12,"labelColor":"#666666","labelOffset":21,"titleFontSize":15,"titleFontStyle":"italic","titleFontWeight":"normal","titleColor":"#444444","titlePadding":3}}
}},
{"data":{"name":"price"},
"mark":{"type":"line","color":"#3c7da8","strokeWidth":2.5},
"encoding":{
"x":{"field":"h","type":"quantitative","scale":{"domain":[9.92,33.75],"nice":false,"zero":false},"axis":null},
"y":{"field":"p","type":"quantitative","scale":{"domain":[81.03,89.2],"nice":false,"zero":false},
"axis":{"orient":"right","values":[82,84,86,88],"format":".2f","grid":false,"domain":true,"domainColor":"#333333","tickSize":7,"tickColor":"#333333","labelFontSize":12,"labelColor":"#666666","labelPadding":3,"title":"Price [USDT]","titleFontSize":15,"titleFontStyle":"italic","titleFontWeight":"normal","titleColor":"#444444","titlePadding":13}}
}}
]
},
{
"width":1118,"height":215,
"view":{"stroke":"#e5e5e5"},
"resolve":{"axis":{"y":"independent"}},
"encoding":{
"x":{"field":"h","type":"quantitative","scale":{"domain":[9.92,33.75],"nice":false,"zero":false},
"axis":{"values":[12,16,20,24,28,32],"labelExpr":"datum.value == 24 ? '2/17' : (datum.value % 24) + 'h'","grid":true,"gridColor":"#e5e5e5","domainColor":"#222222","tickColor":"#222222","tickSize":6,"labelFontSize":12,"labelColor":"#666666","labelPadding":5,"title":"Date (UTC)","titleFontSize":15,"titleFontStyle":"italic","titleFontWeight":"normal","titleColor":"#444444","titlePadding":10}}
},
"layer":[
{
"encoding":{"y":{"field":"v","type":"quantitative","scale":{"domain":[0,1],"nice":false},
"axis":{"orient":"left","values":[0,0.04,0.08,0.12,0.16,0.2,0.24,0.28,0.32,0.36,0.4,0.44,0.48,0.52,0.56,0.6,0.64,0.68,0.72,0.76,0.8,0.84,0.88,0.92,0.96,1],"labels":false,"grid":false,"title":null,"domain":false,"tickSize":4,"tickColor":"#222222"}}},
"layer":[
{"data":{"values":[{"h":10.9,"v":0.168}]},
"mark":{"type":"point","shape":"M-0.8,0.95 C-0.6,0.5 -0.3,0.55 -0.1,0.6 C0.1,0.3 0.4,0.4 0.8,0.95 Z","size":5476,"filled":true,"color":"#e8edf1","opacity":1}},
{"data":{"values":[{"h":10.9,"v":0.168}]},
"mark":{"type":"point","shape":"M-0.2,-1 L0.2,-1 L0.2,-0.35 L1,0.9 L0.9,1 L-0.9,1 L-1,0.9 L-0.2,-0.35 Z","size":5476,"filled":false,"color":"#e8e8e8","strokeWidth":2,"opacity":1}},
{"data":{"values":[{"h":11.97,"v":0.248,"label":"MATERIAL"},{"h":11.97,"v":0.08,"label":"INDICATORS"}]},
"mark":{"type":"text","align":"left","baseline":"middle","font":"Liberation Sans","fontWeight":"bold","fontSize":29,"color":"#dfe3e6"},
"encoding":{"text":{"field":"label"}}}
]
},
{
"encoding":{"y":{"field":"v","type":"quantitative","scale":{"domain":[0,1],"nice":false},
"axis":{"orient":"left","values":[0,0.2,0.4,0.6,0.8,1],"labelExpr":"datum.value == 1 ? '1.000' : datum.value == 0 ? '0' : format(datum.value * 1000, '.2f') + ' m'","grid":true,"gridColor":"#e5e5e5","domainColor":"#222222","tickSize":7,"tickColor":"#222222","labelFontSize":12,"labelColor":"#666666","labelPadding":6,"title":"Normalized CVD [arb. u.]","titleFontSize":15,"titleFontStyle":"italic","titleFontWeight":"normal","titleColor":"#444444","titleX":-75,"titleY":107}}},
"layer":[
{"data":{"name":"all_orders"},"mark":{"type":"line","strokeWidth":2.2},"encoding":{"color":{"datum":"all orders","scale":{"domain":["all orders","$100 < i < $1k","$1k < i < $10k","$10k < i < $100k","$100k < i < $1M","$1M < i < $10M"],"range":["#1f77b4","#ff7f0e","#2ca02c","#d62728","#9467bd","#8c564b"]},
"legend":{"title":null,"orient":"none","direction":"horizontal","columns":6,"legendX":-89,"legendY":291,"symbolType":"stroke","symbolSize":529,"symbolStrokeWidth":2,"labelFontSize":12,"labelColor":"#666666","labelOffset":5,"columnPadding":2,"padding":10,"strokeColor":"#eeeeee","fillColor":"#ffffff"}}}},
{"data":{"name":"size_100"},"mark":{"type":"line","strokeWidth":2.2},"encoding":{"color":{"datum":"$100 < i < $1k"}}},
{"data":{"name":"size_1k"},"mark":{"type":"line","strokeWidth":2.2},"encoding":{"color":{"datum":"$1k < i < $10k"}}},
{"data":{"name":"size_10k"},"mark":{"type":"line","strokeWidth":2.2},"encoding":{"color":{"datum":"$10k < i < $100k"}}},
{"data":{"name":"size_100k"},"mark":{"type":"line","strokeWidth":2.2},"encoding":{"color":{"datum":"$100k < i < $1M"}}},
{"data":{"name":"size_1m"},"mark":{"type":"line","strokeWidth":2.2},"encoding":{"color":{"datum":"$1M < i < $10M"}}},
{"data":{"values":[{"h":27.45,"v":0.294,"label":"곰지네 트레이딩 CVD"}]},"mark":{"type":"text","font":"Noto Sans CJK KR","fontWeight":"bold","fontSize":27,"color":"#000000"},"encoding":{"text":{"field":"label"}}},
{"data":{"values":[{"h":27.38,"v":0.136,"label":"Powered By Material Indictors"}]},"mark":{"type":"text","font":"Noto Sans CJK KR","fontWeight":"bold","fontSize":24,"color":"#000000"},"encoding":{"text":{"field":"label"}}},
{"data":{"values":[{"h":31.54,"v":-0.34,"label":"https://t.me/oddstrading2"}]},"mark":{"type":"text","font":"Noto Sans CJK KR","fontWeight":"bold","fontSize":24,"color":"#000000"},"encoding":{"text":{"field":"label"}}}
]
}
]
}
]
}
